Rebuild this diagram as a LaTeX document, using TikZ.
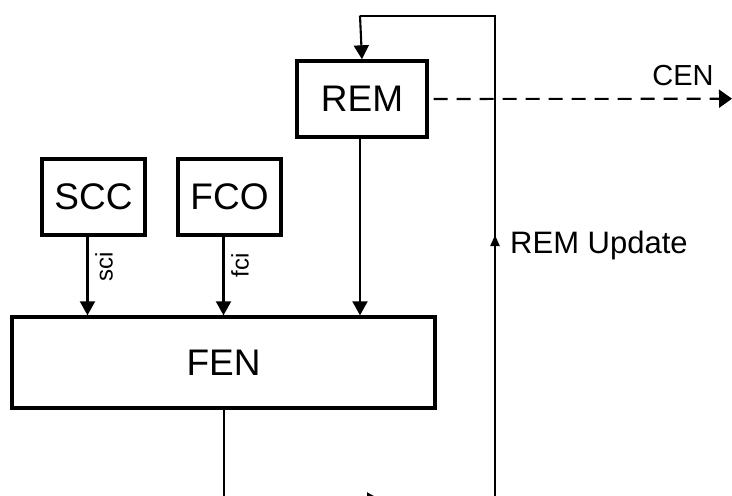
\documentclass[tikz,border=0pt]{standalone}
\usepackage{fontspec}
\setmainfont{Liberation Sans}
\usetikzlibrary{arrows.meta,calc}
\begin{document}
\begin{tikzpicture}[x=1pt,y=-1pt,
  blk/.style={draw,line width=3.4pt,inner sep=0pt,font=\fontsize{37}{40}\selectfont},
  wire/.style={line width=2.1pt},
  conn/.style={wire,-{Triangle[width=15pt,length=14pt]}},
  lbl/.style={font=\fontsize{24}{26}\selectfont,inner sep=0pt,rotate=90}]
\useasboundingbox (0,0) rectangle (732,496);
\clip (0,0) rectangle (732,496);
\node[blk,minimum width=130pt,minimum height=76pt] (rem) at (362,99) {REM};
\node[blk,minimum width=103pt,minimum height=76pt] (scc) at (93.5,197) {SCC};
\node[blk,minimum width=103pt,minimum height=76pt] (fco) at (229.5,197) {FCO};
\node[blk,minimum width=423pt,minimum height=91pt] (fen) at (223.5,362.5) {FEN};
\coordinate (tl) at (360,15.7);
\coordinate (tr) at (495,15.7);
\coordinate (br) at (495,500);
\coordinate (bl) at (224,500);
\coordinate (cen) at (732,98.7);
% inputs to FEN
\draw[conn] ([xshift=-6pt]scc.south) -- ([xshift=-6pt]scc.south |- fen.north);
\node[lbl] (sci) at (104,267) {sci};
\draw[conn] ([xshift=-6pt]fco.south) -- ([xshift=-6pt]fco.south |- fen.north);
\node[lbl] (fci) at (240,265) {fci};
\draw[conn] ([xshift=-2pt]rem.south) -- ([xshift=-2pt]rem.south |- fen.north);
% feedback loop
\draw[wire] (fen.south -| bl) -- (bl) -- (br) -- (tr) -- (tl);
\draw[conn] (tl) -- (rem.north);
\draw[wire,-{Triangle[width=15pt,length=14pt]}] (bl) -- (381,500);
\draw[wire,-{Triangle[width=9pt,length=11pt]}] (495,275) -- (495,235);
\node[font=\fontsize{31}{34}\selectfont,anchor=west,inner sep=0pt] (upd) at (510,245) {REM Update};
% CEN
\draw[wire,dash pattern=on 14pt off 9pt,-{Triangle[width=18pt,length=13pt]}] (rem.east) ++(5pt,0) coordinate (remo) -- (cen);
\node[font=\fontsize{29}{32}\selectfont,inner sep=0pt] (cenl) at (683,76) {CEN};
\end{tikzpicture}
\end{document}
